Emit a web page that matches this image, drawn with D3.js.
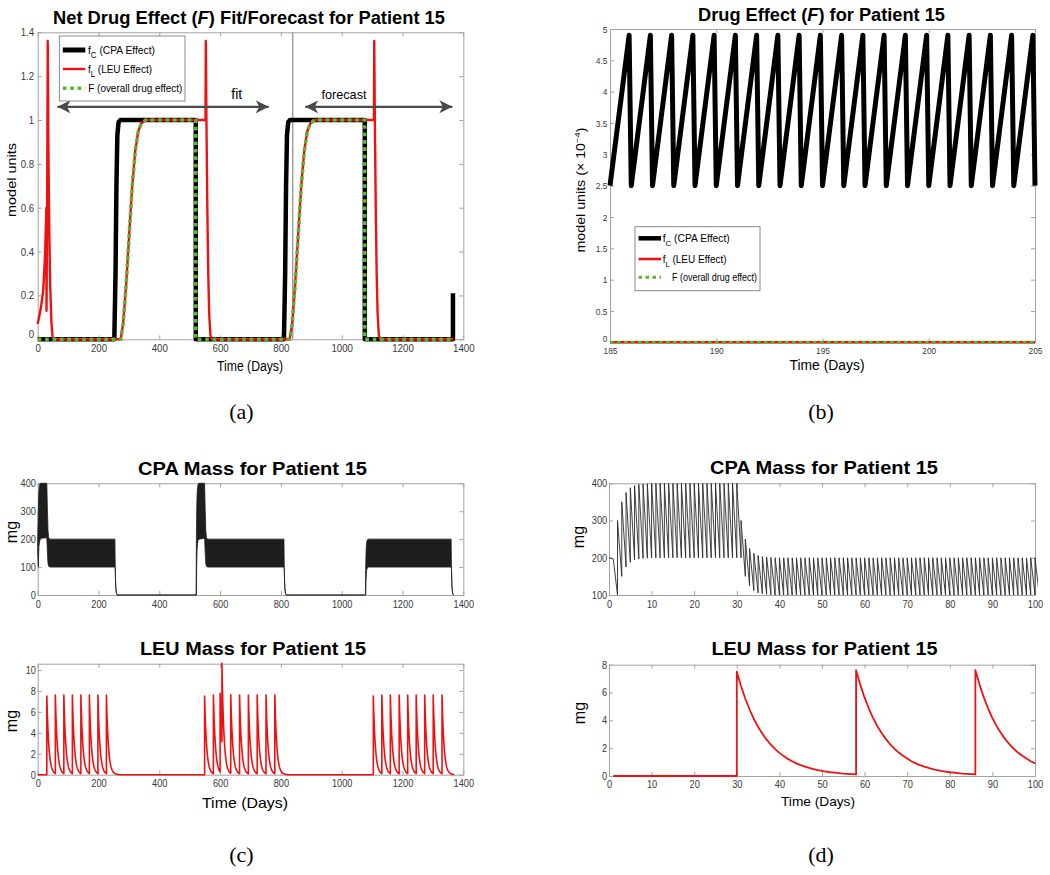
<!DOCTYPE html>
<html>
<head>
<meta charset="utf-8">
<script src="https://cdn.jsdelivr.net/npm/d3@7"></script>
<style>
  body { margin: 0; background: #fff; }
</style>
</head>
<body>
<svg id="fig" width="1050" height="875"></svg>
<script>
// ---------- data ----------

// (a) net drug effect, [day, model units]
const fcA = [[0,0],[252,0],[256,0.3],[259,0.7],[262,0.93],[266,0.99],[272,1],[520,1],[520,0],
  [810,0],[814,0.3],[817,0.7],[820,0.93],[824,0.99],[830,1],[1076,1],[1076,0],[1366,0],[1366,0.21]];
const flA = [[0,0.07],[10,0.14],[18,0.22],[24,0.38],[27,0.52],[28.5,0.6],[29,0.13],[31,0.6],[33,1.36],
  [35,0.9],[38,0.5],[41,0.25],[45,0.08],[49,0.01],[53,0],
  [273,0],[281,0.07],[291,0.25],[301,0.48],[311,0.7],[321,0.86],[331,0.95],[341,0.985],[356,1],
  [552,1],[553,1.36],[555,1],[558,0.6],[561,0.3],[564,0.12],[568,0.02],[572,0],
  [829,0],[837,0.07],[847,0.25],[857,0.48],[867,0.7],[877,0.86],[887,0.95],[897,0.985],[912,1],
  [1106,1],[1107,1.36],[1109,1],[1112,0.6],[1115,0.3],[1118,0.12],[1122,0.02],[1126,0],[1368,0]];
const fA = [[0,0],[273,0],[281,0.07],[291,0.25],[301,0.48],[311,0.7],[321,0.86],[331,0.95],[341,0.985],[356,1],
  [520,1],[520,0],
  [829,0],[837,0.07],[847,0.25],[857,0.48],[867,0.7],[877,0.86],[887,0.95],[897,0.985],[912,1],
  [1076,1],[1076,0],[1368,0]];
const fitArrow = [65, 760];
const forecastArrow = [880, 1364];
const arrowLevel = 1.06;
const splitDay = 839;

// (b) drug effect zoom, [day, model units x1e-4]
const fcB = [[185,2.5],[185.9,4.9],[186,2.5],[186.9,4.9],[187,2.5],[187.9,4.9],[188,2.5],[188.9,4.9],
  [189,2.5],[189.9,4.9],[190,2.5],[190.9,4.9],[191,2.5],[191.9,4.9],[192,2.5],[192.9,4.9],
  [193,2.5],[193.9,4.9],[194,2.5],[194.9,4.9],[195,2.5],[195.9,4.9],[196,2.5],[196.9,4.9],
  [197,2.5],[197.9,4.9],[198,2.5],[198.9,4.9],[199,2.5],[199.9,4.9],[200,2.5],[200.9,4.9],
  [201,2.5],[201.9,4.9],[202,2.5],[202.9,4.9],[203,2.5],[203.9,4.9],[204,2.5],[204.9,4.9],[205,2.5]];
const flB = [[185,0],[205,0]];
const fB = [[185,0],[205,0]];

// (c) CPA mass envelope, [day, low, high] mg
const cpaBandC = [[0,150,200],[2,100,300],[4,175,375],[7,197,398],[10,203,400],[30,205,400],
  [32,150,300],[34,112,230],[36,103,205],[40,100,200],[254,100,200],
  [255,100,100],[256,50,50],[257,25,25],[259,6,6],[262,0,0],
  [521,0,0],[522,0,200],[523,100,300],[524,150,350],[525,175,375],[527,194,394],[530,200,400],
  [549,203,400],[551,150,300],[553,112,230],[555,103,205],[559,100,200],[810,100,200],
  [811,100,100],[812,50,50],[813,25,25],[815,6,6],[818,0,0],
  [1078,0,0],[1079,0,100],[1080,50,150],[1081,75,175],[1082,88,188],[1084,97,197],[1087,100,200],
  [1360,100,200],[1361,100,100],[1362,50,50],[1363,25,25],[1365,6,6],[1368,0,0]];

// LEU mass left after one injection, mg, by day since injection
const leuProfile = [7.5,6.45,5.55,4.78,4.1,3.53,3.04,2.61,2.25,1.93,1.66,1.43,1.23,1.06,0.91,0.78,
  0.67,0.58,0.5,0.43,0.37,0.32,0.27,0.24,0.2,0.17,0.15,0.13,0.11,0.1,0.08,0.07,0.06,0.05,0.045,
  0.04,0.03,0.03,0.025,0.02,0.02];
const leuDosesC = [30,58,86,114,142,170,198,226,
  549,578,600,606,635,664,693,722,751,780,
  1104,1132,1160,1189,1217,1245,1273,1301,1330];
const leuDosesD = [30,58,86];

// (d) CPA mass, daily dose from day 2; trough before and peak after each dose (mg)
const cpaStartD = [[0,200],[1,197]];
const cpaTroughD = [100,150,175,188,194,197,198,199,
  200,200,200,200,200,200,200,200,200,200,200,200,200,200,200,200,200,200,200,200,200,200,
  150,125,112,106,103,102,101,
  100,100,100,100,100,100,100,100,100,100,100,100,100,100,100,100,100,100,100,100,100,
  100,100,100,100,100,100,100,100,100,100,100,100,100,100,100,100,100,100,100,100,100,
  100,100,100,100,100,100,100,100,100,100,100,100,100,100,100,100,100,100,100,100,100,100];
const cpaPeakD = [300,350,375,388,394,397,398,399,
  400,400,400,400,400,400,400,400,400,400,400,400,400,400,400,400,400,400,400,400,400,
  300,250,225,212,206,203,202,201,
  200,200,200,200,200,200,200,200,200,200,200,200,200,200,200,200,200,200,200,200,200,
  200,200,200,200,200,200,200,200,200,200,200,200,200,200,200,200,200,200,200,200,200,
  200,200,200,200,200,200,200,200,200,200,200,200,200,200,200,200,200,200,200,200,200,200];
const cpaFirstDoseD = 2;

// ticks
const ticks1400 = [0,200,400,600,800,1000,1200,1400];
const ticks100 = [0,10,20,30,40,50,60,70,80,90,100];
const ticksAy = [0,0.2,0.4,0.6,0.8,1,1.2,1.4];
const ticksBx = [185,190,195,200,205];
const ticksBy = [0,0.5,1,1.5,2,2.5,3,3.5,4,4.5,5];

// ---------- drawing ----------
const FONT = '"Liberation Sans", Arial, Helvetica, sans-serif';
const SERIF = '"Liberation Serif", "Times New Roman", serif';
const FRAME = '#a3a3a3';
const RED = '#f01010';
const GREEN = '#58b630';

const svg = d3.select('#fig');
svg.append('rect').attr('width', 1050).attr('height', 875).attr('fill', '#fff');

function panel(p) {
  const x = d3.scaleLinear().domain(p.xd).range([p.l, p.r]);
  const y = d3.scaleLinear().domain(p.yd).range([p.b, p.t]);
  const g = svg.append('g');
  const fmt = d => String(d);

  g.append('g').attr('transform', `translate(0,${p.b})`)
    .call(d3.axisBottom(x).tickValues(p.xt).tickSize(-4).tickSizeOuter(0).tickPadding(p.xpad).tickFormat(fmt));
  g.append('g').attr('transform', `translate(0,${p.t})`)
    .call(d3.axisTop(x).tickValues(p.xt).tickSize(-4).tickSizeOuter(0).tickFormat(''));
  const left = g.append('g').attr('transform', `translate(${p.l},0)`)
    .call(d3.axisLeft(y).tickValues(p.yt).tickSize(-4).tickSizeOuter(0).tickPadding(p.ypad).tickFormat(fmt));
  g.append('g').attr('transform', `translate(${p.r},0)`)
    .call(d3.axisRight(y).tickValues(p.yt).tickSize(-4).tickSizeOuter(0).tickFormat(''));

  g.selectAll('.domain, .tick line').attr('stroke', FRAME);
  g.selectAll('.tick text').attr('fill', '#3a3a3a').attr('font-size', p.fs)
    .attr('font-family', FONT).attr('transform', 'scale(0.88,1)');
  if (p.zeroUp) left.selectAll('.tick text').filter(d => d === p.yd[0]).attr('dy', p.zeroUp);

  svg.append('clipPath').attr('id', 'clip-' + p.id).append('rect')
    .attr('x', p.l - 3).attr('y', p.t - 3).attr('width', p.r - p.l + 6).attr('height', p.b - p.t + 6);
  const plot = g.append('g').attr('clip-path', `url(#clip-${p.id})`);
  return { x, y, g, plot };
}

function text(x, y, s, o = {}) {
  const t = svg.append('text').attr('x', x).attr('y', y)
    .attr('font-family', o.serif ? SERIF : FONT)
    .attr('font-size', o.fs || 12)
    .attr('font-weight', o.bold ? 'bold' : null)
    .attr('text-anchor', o.anchor || 'middle')
    .attr('fill', o.fill || '#000');
  if (o.rot) t.attr('transform', `rotate(${o.rot},${x},${y})`);
  if (o.len) t.attr('textLength', o.len).attr('lengthAdjust', 'spacingAndGlyphs');
  const parts = Array.isArray(s) ? s : [{ s }];
  parts.forEach(p => {
    const ts = t.append('tspan').text(p.s);
    if (p.it) ts.attr('font-style', 'italic');
    if (p.sub) ts.attr('font-size', p.sub).attr('dy', p.dy);
    if (p.back) ts.attr('dy', p.back);
  });
  return t;
}

function drawLine(plot, sc, data, stroke, width, dash) {
  const line = d3.line().x(d => sc.x(d[0])).y(d => sc.y(d[1]));
  return plot.append('path').datum(data).attr('d', line)
    .attr('fill', 'none').attr('stroke', stroke).attr('stroke-width', width)
    .attr('stroke-linejoin', 'round').attr('stroke-dasharray', dash || null);
}

function legend(bx, by, bw, bh, rows, fs) {
  svg.append('rect').attr('x', bx).attr('y', by).attr('width', bw).attr('height', bh)
    .attr('fill', '#fff').attr('stroke', '#6e6e6e').attr('stroke-width', 0.8);
  rows.forEach(r => {
    svg.append('line').attr('x1', bx + 3.5).attr('x2', bx + 26).attr('y1', r.y).attr('y2', r.y)
      .attr('stroke', r.color).attr('stroke-width', r.w).attr('stroke-dasharray', r.dash || null);
    text(r.tx, r.y + 4, r.label, { fs, anchor: 'start', len: r.len });
  });
}

function leuSeries(doses, t0, t1) {
  const val = (t, incl) => d3.sum(doses, s =>
    (s < t || (incl && s === t)) && t - s < leuProfile.length ? leuProfile[t - s] : 0);
  const pts = [];
  for (let t = t0; t <= t1; t++) {
    if (doses.includes(t)) pts.push([t, val(t, false)]);
    pts.push([t, val(t, true)]);
  }
  return pts;
}

// ----- (a) -----
const A = panel({ id: 'a', xd: [0, 1400], yd: [0, 1.4], l: 37.7, r: 463.3, t: 32.3, b: 339.3,
  xt: ticks1400, yt: ticksAy, fs: 11, xpad: 5, ypad: 4, zeroUp: '-0.15em' });
A.plot.append('line').attr('x1', A.x(splitDay)).attr('x2', A.x(splitDay))
  .attr('y1', A.y(1.4)).attr('y2', A.y(0)).attr('stroke', '#8c8c8c').attr('stroke-width', 1.2);
drawLine(A.plot, A, fcA, '#000', 4.5);
drawLine(A.plot, A, flA, RED, 2.4);
drawLine(A.plot, A, fA, GREEN, 3.6, '3.7,3.7');

svg.append('defs').append('marker').attr('id', 'head')
  .attr('markerUnits', 'userSpaceOnUse').attr('markerWidth', 14).attr('markerHeight', 14)
  .attr('refX', 13).attr('refY', 6.5).attr('orient', 'auto-start-reverse')
  .append('path').attr('d', 'M0,0 L13,6.5 L0,13 L3.5,6.5 Z').attr('fill', '#4a4a4a');
[fitArrow, forecastArrow].forEach(a => {
  svg.append('line').attr('x1', A.x(a[0])).attr('x2', A.x(a[1]))
    .attr('y1', A.y(arrowLevel)).attr('y2', A.y(arrowLevel))
    .attr('stroke', '#4a4a4a').attr('stroke-width', 2.3)
    .attr('marker-start', 'url(#head)').attr('marker-end', 'url(#head)');
});
text(236.7, 98.5, 'fit', { fs: 14 });
text(344, 98.5, 'forecast', { fs: 13.5, len: 45 });

legend(59.3, 36, 125.7, 65, [
  { y: 50, color: '#000', w: 5, tx: 88, len: 67,
    label: [{ s: 'f' }, { s: 'C', sub: 8.5, dy: 3.5 }, { s: ' (CPA Effect)', back: -3.5 }] },
  { y: 69, color: RED, w: 2.4, tx: 88, len: 64,
    label: [{ s: 'f' }, { s: 'L', sub: 8.5, dy: 3.5 }, { s: ' (LEU Effect)', back: -3.5 }] },
  { y: 88.3, color: GREEN, w: 3.6, dash: '3.7,3.7', tx: 88.3, len: 94,
    label: [{ s: 'F (overall drug effect)' }] }
], 11);

text(249, 24, [{ s: 'Net Drug Effect (' }, { s: 'F', it: true }, { s: ') Fit/Forecast for Patient 15' }],
  { fs: 18, bold: true, len: 392 });
text(16, 180, 'model units', { fs: 13, rot: -90, len: 74 });
text(250, 371, 'Time (Days)', { fs: 14, len: 66 });

// ----- (b) -----
const B = panel({ id: 'b', xd: [185, 205], yd: [0, 5], l: 610, r: 1035, t: 29, b: 342.3,
  xt: ticksBx, yt: ticksBy, fs: 9.5, xpad: 4.5, ypad: 3, zeroUp: '-0.05em' });
drawLine(B.plot, B, fcB, '#000', 5);
drawLine(B.plot, B, flB, RED, 2.6);
drawLine(B.plot, B, fB, GREEN, 3, '3.5,3.5');

legend(635, 226.7, 125, 64, [
  { y: 238.3, color: '#000', w: 4.5, tx: 662.7, len: 67,
    label: [{ s: 'f' }, { s: 'C', sub: 8, dy: 3.5 }, { s: ' (CPA Effect)', back: -3.5 }] },
  { y: 259, color: RED, w: 2.6, tx: 662.7, len: 64,
    label: [{ s: 'f' }, { s: 'L', sub: 8, dy: 3.5 }, { s: ' (LEU Effect)', back: -3.5 }] },
  { y: 277.3, color: GREEN, w: 3, dash: '3.5,3.5', tx: 672, len: 85,
    label: [{ s: 'F (overall drug effect)' }] }
], 10.5);

text(821.5, 20.7, [{ s: 'Drug Effect (' }, { s: 'F', it: true }, { s: ') for Patient 15' }],
  { fs: 18, bold: true, len: 247 });
text(584.5, 190, [{ s: 'model units (\u00d7 10' }, { s: '\u22124', sub: 8, dy: -5 }, { s: ')', back: 5 }],
  { fs: 12, rot: -90, len: 125 });
text(827, 370, 'Time (Days)', { fs: 15.5, len: 75 });

// ----- (c) -----
const C1 = panel({ id: 'c1', xd: [0, 1400], yd: [0, 400], l: 37.7, r: 463.3, t: 483.3, b: 595,
  xt: ticks1400, yt: [0, 100, 200, 300, 400], fs: 10.5, xpad: 6, ypad: 2 });
C1.plot.append('path').datum(cpaBandC)
  .attr('d', d3.area().x(d => C1.x(d[0])).y0(d => C1.y(d[1])).y1(d => C1.y(d[2])))
  .attr('fill', '#1e1e1e').attr('stroke', '#1e1e1e').attr('stroke-width', 0.8);

const C2 = panel({ id: 'c2', xd: [0, 1400], yd: [0, 10.6], l: 37.7, r: 463.3, t: 663.7, b: 774.7,
  xt: ticks1400, yt: [0, 2, 4, 6, 8, 10], fs: 10.5, xpad: 4.5, ypad: 2 });
drawLine(C2.plot, C2, leuSeries(leuDosesC, 0, 1370), RED, 1.6);

text(252.5, 475, 'CPA Mass for Patient 15', { fs: 19, bold: true, len: 229 });
text(253, 655, 'LEU Mass for Patient 15', { fs: 19, bold: true, len: 226 });
text(16.5, 532, 'mg', { fs: 16, rot: -90 });
text(16.5, 721, 'mg', { fs: 16, rot: -90 });
text(245, 808, 'Time (Days)', { fs: 15, len: 86 });

// ----- (d) -----
const D1 = panel({ id: 'd1', xd: [0, 100], yd: [100, 400], l: 609, r: 1035, t: 483.3, b: 595,
  xt: ticks100, yt: [100, 200, 300, 400], fs: 10.5, xpad: 6, ypad: 2 });
const cpaD = cpaStartD.slice();
cpaTroughD.forEach((v, i) => {
  cpaD.push([cpaFirstDoseD + i, v]);
  cpaD.push([cpaFirstDoseD + i, cpaPeakD[i]]);
});
drawLine(D1.plot, D1, cpaD, '#2a2a2a', 0.9);

const D2 = panel({ id: 'd2', xd: [0, 100], yd: [0, 8], l: 609, r: 1035, t: 664.7, b: 776,
  xt: ticks100, yt: [0, 2, 4, 6, 8], fs: 10.5, xpad: 5, ypad: 2 });
drawLine(D2.plot, D2, leuSeries(leuDosesD, 1, 100), RED, 1.8);

text(824, 474.3, 'CPA Mass for Patient 15', { fs: 19, bold: true, len: 228 });
text(824.5, 655, 'LEU Mass for Patient 15', { fs: 19, bold: true, len: 226 });
text(584, 537, 'mg', { fs: 16, rot: -90 });
text(585, 713, 'mg', { fs: 16, rot: -90 });
text(818, 806, 'Time (Days)', { fs: 13, len: 74 });

// panel letters
text(241.5, 419, '(a)', { fs: 22, serif: true });
text(821, 419, '(b)', { fs: 22, serif: true });
text(241.5, 862, '(c)', { fs: 22, serif: true });
text(821, 862, '(d)', { fs: 22, serif: true });
</script>
</body>
</html>
